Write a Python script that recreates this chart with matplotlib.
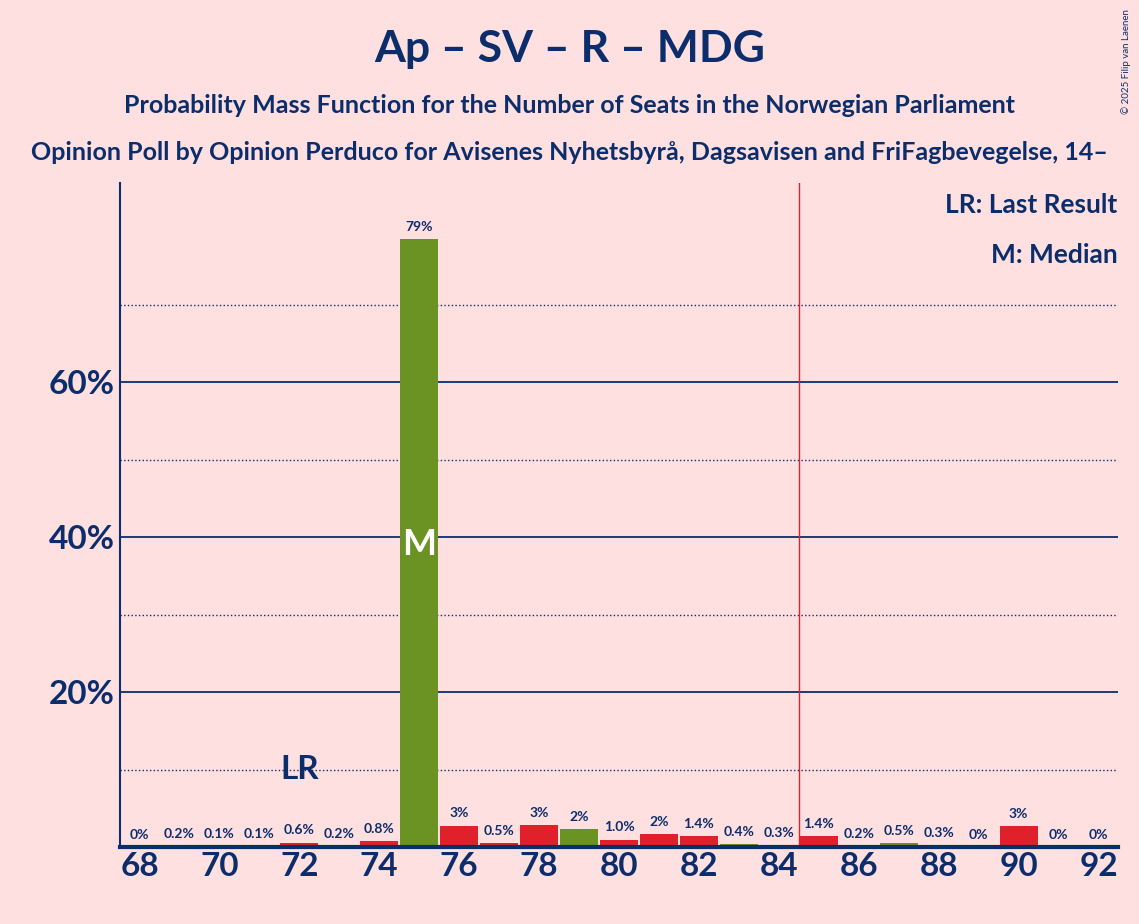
import matplotlib
matplotlib.use("Agg")
import matplotlib.pyplot as plt

seats = list(range(68, 93))
probs = [0.0, 0.2, 0.1, 0.1, 0.6, 0.2, 0.8, 78.5, 2.8, 0.5, 2.9, 2.4, 1.0, 1.7, 1.4, 0.4, 0.3, 1.4, 0.2, 0.5, 0.3, 0.0, 2.7, 0.0, 0.0]
labels = ["0%", "0.2%", "0.1%", "0.1%", "0.6%", "0.2%", "0.8%", "79%", "3%", "0.5%", "3%", "2%", "1.0%", "2%", "1.4%", "0.4%", "0.3%", "1.4%", "0.2%", "0.5%", "0.3%", "0%", "3%", "0%", "0%"]
green_seats = [75, 79, 83, 87]
last_result = 72
median = 75
majority = 84.5

bg = "#FFE0E0"
navy = "#0C2D6B"
red = "#E0202A"
green = "#6B9324"

plt.rcParams['font.family'] = ['Lato', 'DejaVu Sans']
fig = plt.figure(figsize=(11.39, 9.24), dpi=100, facecolor=bg)
ax = fig.add_axes([0.105, 0.083, 0.877, 0.719], facecolor=bg)

colors = [green if s in green_seats else red for s in seats]
ax.bar(seats, probs, width=0.95, color=colors)
for s, p, l in zip(seats, probs, labels):
    if s == median:
        continue
    ax.text(s, p + 0.8, l, ha='center', va='bottom', fontsize=10, color=navy, fontweight='bold')
ax.text(median, probs[seats.index(median)] + 0.8, labels[seats.index(median)], ha='center', va='bottom', fontsize=10, color=navy, fontweight='bold')
ax.text(median, 39, "M", ha='center', va='center', fontsize=26, color='white', fontweight='bold')
ax.text(last_result, 10, "LR", ha='center', va='center', fontsize=24, color=navy, fontweight='bold')

for y in [20, 40, 60]:
    ax.axhline(y, color=navy, lw=1.3, zorder=0)
for y in [10, 30, 50, 70]:
    ax.axhline(y, color=navy, lw=1, ls=':', zorder=0)
ax.axvline(majority, color=red, lw=1)

ax.set_xlim(67.5, 92.5)
ax.set_ylim(0, 85.7)
ax.set_xticks(range(68, 93, 2))
ax.set_yticks([20, 40, 60])
ax.set_yticklabels(["20%", "40%", "60%"])
ax.tick_params(axis='both', labelsize=24, colors=navy, length=0, labelcolor=navy)
for t in ax.get_xticklabels() + ax.get_yticklabels():
    t.set_fontweight('bold')
for side in ['top', 'right']:
    ax.spines[side].set_visible(False)
ax.spines['left'].set_color(navy)
ax.spines['bottom'].set_color(navy)
ax.spines['bottom'].set_linewidth(3)
ax.spines['left'].set_linewidth(1.5)

ax.text(0.999, 0.985, "LR: Last Result", transform=ax.transAxes, ha='right', va='top', fontsize=19, color=navy, fontweight='bold')
ax.text(0.999, 0.91, "M: Median", transform=ax.transAxes, ha='right', va='top', fontsize=19, color=navy, fontweight='bold')

fig.text(0.5, 0.947, "Ap – SV – R – MDG", ha='center', va='center', fontsize=32, color=navy, fontweight='bold')
fig.text(0.5, 0.886, "Probability Mass Function for the Number of Seats in the Norwegian Parliament", ha='center', va='center', fontsize=18, color=navy, fontweight='bold')
fig.text(0.5, 0.835, "Opinion Poll by Opinion Perduco for Avisenes Nyhetsbyrå, Dagsavisen and FriFagbevegelse, 14–", ha='center', va='center', fontsize=18, color=navy, fontweight='bold')
fig.text(0.993, 0.99, "© 2025 Filip van Laenen", ha='right', va='top', fontsize=7, color=navy, rotation=90)

fig.savefig("out.png", dpi=100, facecolor=bg)
